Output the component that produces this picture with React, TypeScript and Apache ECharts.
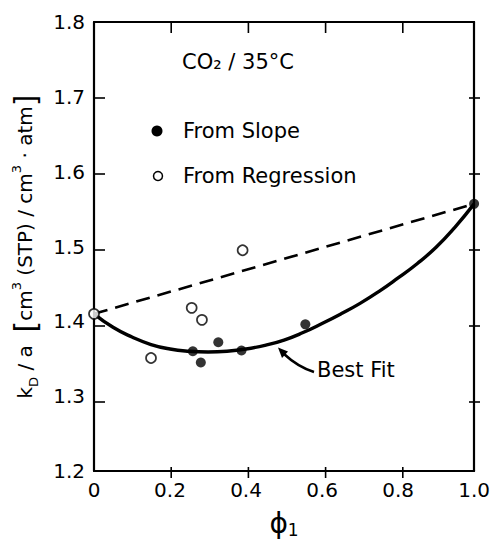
import React, { useEffect, useRef } from "react";
import * as echarts from "echarts";

const xTicks = [0, 0.2, 0.4, 0.6, 0.8, 1.0];
const yTicks = [1.2, 1.3, 1.4, 1.5, 1.6, 1.7, 1.8];

const fromSlope: [number, number][] = [
  [0.26, 1.36],
  [0.281, 1.345],
  [0.327, 1.372],
  [0.388, 1.361],
  [0.556, 1.396],
  [1.0, 1.557],
];

const fromRegression: [number, number][] = [
  [0.0, 1.41],
  [0.15, 1.351],
  [0.257, 1.418],
  [0.284, 1.402],
  [0.391, 1.495],
];

const bestFit: [number, number][] = [
  [0.0, 1.41],
  [0.05, 1.392],
  [0.1, 1.379],
  [0.15, 1.369],
  [0.2, 1.363],
  [0.25, 1.36],
  [0.3, 1.359],
  [0.35, 1.36],
  [0.4, 1.363],
  [0.45, 1.368],
  [0.5, 1.375],
  [0.55, 1.385],
  [0.6, 1.397],
  [0.65, 1.41],
  [0.7, 1.424],
  [0.75, 1.44],
  [0.8, 1.458],
  [0.85, 1.477],
  [0.9, 1.499],
  [0.95, 1.526],
  [1.0, 1.557],
];

const dashedLine: [number, number][] = [
  [0.0, 1.41],
  [1.0, 1.557],
];

const FONT = "DejaVu Sans";
const TICK_LEN = 11;

const lineStyleAxis = { show: true, onZero: false, lineStyle: { color: "#000", width: 2.2 } };

export default function App() {
  const ref = useRef<HTMLDivElement>(null);
  useEffect(() => {
    if (!ref.current) return;
    const chart = echarts.init(ref.current, undefined, { renderer: "svg" });

    const gl = 94, gr = 13, gt = 22, gb = 65;
    const xMin = xTicks[0];
    const xMax = xTicks[xTicks.length - 1];
    const yMin = yTicks[0];
    const yMax = yTicks[yTicks.length - 1];
    const gw = 493 - gl - gr;
    const gh = 543 - gt - gb;
    const px = (v: number) => gl + ((v - xMin) / (xMax - xMin)) * gw;
    const py = (v: number) => gt + gh - ((v - yMin) / (yMax - yMin)) * gh;
    const tickLine = (x1: number, y1: number, x2: number, y2: number) => ({
      type: "line",
      shape: { x1, y1, x2, y2 },
      style: { stroke: "#000", lineWidth: 1.6 },
    });
    const ticks: any[] = [];
    xTicks.slice(1, -1).forEach((xv) => {
      const x = px(xv);
      ticks.push(tickLine(x, py(yMin), x, py(yMin) - TICK_LEN));
      ticks.push(tickLine(x, py(yMax), x, py(yMax) + TICK_LEN));
    });
    yTicks.slice(1, -1).forEach((yv) => {
      const y = py(yv);
      ticks.push(tickLine(px(xMin), y, px(xMin) + TICK_LEN, y));
      ticks.push(tickLine(px(xMax), y, px(xMax) - TICK_LEN, y));
    });

    chart.setOption({
      animation: false,
      backgroundColor: "#fff",
      textStyle: { fontFamily: FONT, color: "#000" },
      grid: { left: 94, right: 13, top: 22, bottom: 65 },
      xAxis: [
        {
          type: "value",
          position: "bottom",
          min: xMin,
          max: xMax,
          interval: 0.2,
          axisLine: lineStyleAxis,
          axisTick: { show: false },
          splitLine: { show: false },
          axisLabel: {
            color: "#000",
            fontSize: 20,
            fontFamily: FONT,
            margin: 9,
            formatter: (v: number) => (v === 0 ? "0" : v.toFixed(1)),
          },
          name: "{t|ϕ}{s|1}",
          nameLocation: "middle",
          nameGap: 37,
          nameTextStyle: {
            rich: {
              t: { fontSize: 28, fontFamily: FONT, color: "#000", lineHeight: 30 },
              s: { fontSize: 17, fontFamily: FONT, color: "#000", verticalAlign: "bottom" },
            },
          },
        },
        {
          type: "value",
          position: "top",
          min: xMin,
          max: xMax,
          interval: 0.2,
          axisLine: lineStyleAxis,
          axisTick: { show: false },
          splitLine: { show: false },
          axisLabel: { show: false },
        },
      ],
      yAxis: [
        {
          type: "value",
          position: "left",
          min: yMin,
          max: yMax,
          interval: 0.1,
          axisLine: lineStyleAxis,
          axisTick: { show: false },
          splitLine: { show: false },
          axisLabel: {
            color: "#000",
            fontSize: 20,
            fontFamily: FONT,
            margin: 9,
            formatter: (v: number) => v.toFixed(1),
          },
          name: "{t|k}{s|D}{t| / a  }{b|[}{t|cm}{p|3}{t| (STP) / cm}{p|3}{t| · atm}{b|]}",
          nameLocation: "middle",
          nameGap: 54,
          nameTextStyle: {
            rich: {
              t: { fontSize: 20, fontFamily: FONT, color: "#000", lineHeight: 30 },
              s: { fontSize: 13, fontFamily: FONT, color: "#000", verticalAlign: "bottom" },
              p: { fontSize: 13, fontFamily: FONT, color: "#000", verticalAlign: "top" },
              b: { fontSize: 30, fontFamily: FONT, color: "#000", lineHeight: 30 },
            },
          },
        },
        {
          type: "value",
          position: "right",
          min: yMin,
          max: yMax,
          interval: 0.1,
          axisLine: lineStyleAxis,
          axisTick: { show: false },
          splitLine: { show: false },
          axisLabel: { show: false },
        },
      ],
      series: [
        {
          name: "Dashed",
          type: "line",
          data: dashedLine,
          symbol: "none",
          lineStyle: { color: "#000", width: 2.6, type: [14, 8] },
          z: 2,
        },
        {
          name: "Best Fit",
          type: "line",
          data: bestFit,
          symbol: "none",
          smooth: 0.5,
          lineStyle: { color: "#000", width: 3.4 },
          z: 2,
        },
        {
          name: "From Slope",
          type: "scatter",
          data: fromSlope,
          symbol: "circle",
          symbolSize: 10,
          itemStyle: { color: "#000" },
          clip: false,
          z: 3,
        },
        {
          name: "From Regression",
          type: "scatter",
          data: fromRegression,
          symbol: "circle",
          symbolSize: 10,
          itemStyle: { color: "#fff", borderColor: "#000", borderWidth: 1.7 },
          clip: false,
          z: 4,
        },
      ],
      graphic: [
        {
          type: "text",
          x: 182,
          y: 62,
          style: { text: "CO₂ / 35°C", fontSize: 21, fontFamily: FONT, fill: "#000", verticalAlign: "middle" },
        },
        { type: "circle", shape: { cx: 157, cy: 131, r: 5.5 }, style: { fill: "#000" } },
        {
          type: "text",
          x: 183,
          y: 131,
          style: { text: "From Slope", fontSize: 21, fontFamily: FONT, fill: "#000", verticalAlign: "middle" },
        },
        {
          type: "circle",
          shape: { cx: 158, cy: 176, r: 4.5 },
          style: { fill: "#fff", stroke: "#000", lineWidth: 1.5 },
        },
        {
          type: "text",
          x: 183,
          y: 176,
          style: { text: "From Regression", fontSize: 21, fontFamily: FONT, fill: "#000", verticalAlign: "middle" },
        },
        {
          type: "text",
          x: 317,
          y: 370,
          style: { text: "Best Fit", fontSize: 21, fontFamily: FONT, fill: "#000", verticalAlign: "middle" },
        },
        {
          type: "bezierCurve",
          shape: { x1: 314, y1: 372, cpx1: 298, cpy1: 367, x2: 284, y2: 354 },
          style: { stroke: "#000", lineWidth: 2.5, fill: "none" },
        },
        {
          type: "polygon",
          shape: { points: [[278, 347.5], [288, 351.5], [282, 358]] },
          style: { fill: "#000" },
        },
        ...ticks,
      ],
    });

    return () => chart.dispose();
  }, []);
  return (
    <div
      ref={ref}
      style={{ position: "fixed", left: 0, top: 0, width: 493, height: 543, background: "#fff" }}
    />
  );
}
